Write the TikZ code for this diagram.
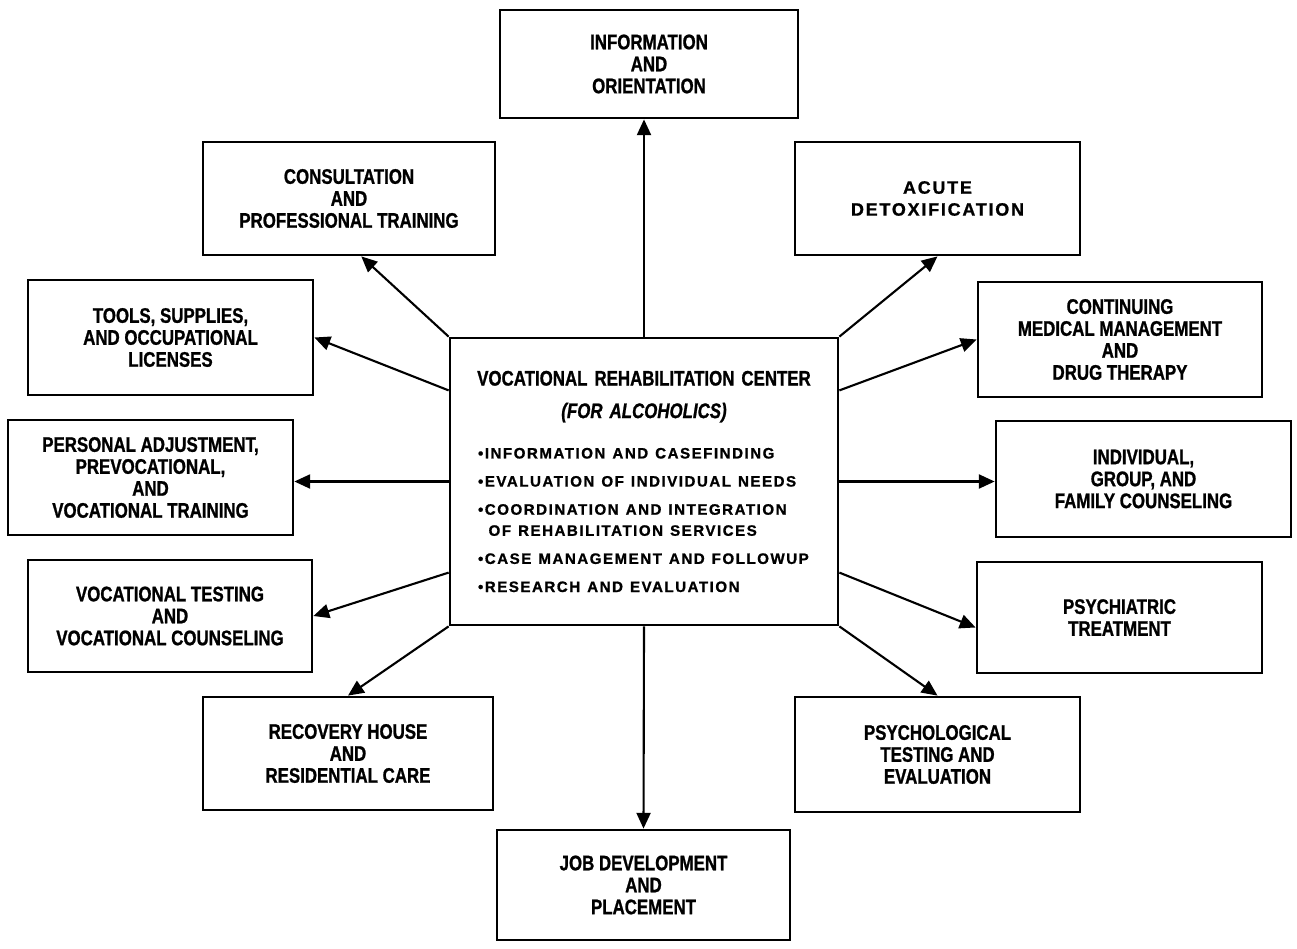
\documentclass[tikz,border=0pt]{standalone}
\usepackage{fontspec}
\setmainfont{Liberation Sans}[FakeStretch=0.8, BoldFeatures={FakeBold=1}, BoldItalicFeatures={FakeBold=1}]
\newfontfamily\listfont{Liberation Sans}[LetterSpace=10, BoldFeatures={FakeBold=1}]
\usetikzlibrary{arrows.meta,positioning}

\begin{document}
\begin{tikzpicture}[x=0.02cm,y=-0.02cm,
        unit/.style={draw, line width=1.6pt, align=center, inner sep=2pt,
            font=\bfseries\fontsize{12}{12.5}\selectfont},
        link/.style={line width=1.2pt, -{Triangle[length=9pt,width=8pt]}}]
            \useasboundingbox (0,0) rectangle (1297,949);
            % centre
            \node[unit, minimum width=7.76cm, minimum height=5.74cm, text width=6.64cm, align=left] (vrc) at (644,481.5)
                {{\centering \makebox[\linewidth][c]{VOCATIONAL REHABILITATION CENTER}\\[6pt]\itshape (FOR ALCOHOLICS)\par}
                 \vspace{11pt}
                 {\listfont\fontsize{8.6}{12}\selectfont
                 •INFORMATION AND CASEFINDING\\[4pt]
                 •EVALUATION OF INDIVIDUAL NEEDS\\[4pt]
                 •COORDINATION AND INTEGRATION\\
                 \hspace*{6pt}OF REHABILITATION SERVICES\\[4pt]
                 •CASE MANAGEMENT AND FOLLOWUP\\[4pt]
                 •RESEARCH AND EVALUATION\par}};
            % services round it
            \node[unit, minimum width=5.96cm, minimum height=2.16cm] (info) at (649,64) {INFORMATION\\AND\\ORIENTATION};
            \node[unit, minimum width=5.84cm, minimum height=2.26cm] (consult) at (349,198.5) {CONSULTATION\\AND\\PROFESSIONAL TRAINING};
            \node[unit, minimum width=5.70cm, minimum height=2.26cm, font=\listfont\bfseries\fontsize{10.2}{12.5}\selectfont] (acute) at (937.5,198.5) {ACUTE\\DETOXIFICATION};
            \node[unit, minimum width=5.70cm, minimum height=2.30cm] (tools) at (170.5,337.5) {TOOLS, SUPPLIES,\\AND OCCUPATIONAL\\LICENSES};
            \node[unit, minimum width=5.68cm, minimum height=2.30cm] (contin) at (1120,339.5) {CONTINUING\\MEDICAL MANAGEMENT\\AND\\DRUG THERAPY};
            \node[unit, minimum width=5.70cm, minimum height=2.30cm] (personal) at (150.5,477.5) {PERSONAL ADJUSTMENT,\\PREVOCATIONAL,\\AND\\VOCATIONAL TRAINING};
            \node[unit, minimum width=5.90cm, minimum height=2.32cm] (indiv) at (1143.5,479) {INDIVIDUAL,\\GROUP, AND\\FAMILY COUNSELING};
            \node[unit, minimum width=5.68cm, minimum height=2.24cm] (voctest) at (170,616) {VOCATIONAL TESTING\\AND\\VOCATIONAL COUNSELING};
            \node[unit, minimum width=5.70cm, minimum height=2.22cm] (psychiatric) at (1119.5,617.5) {PSYCHIATRIC\\TREATMENT};
            \node[unit, minimum width=5.80cm, minimum height=2.26cm] (recovery) at (348,753.5) {RECOVERY HOUSE\\AND\\RESIDENTIAL CARE};
            \node[unit, minimum width=5.70cm, minimum height=2.30cm] (psychol) at (937.5,754.5) {PSYCHOLOGICAL\\TESTING AND\\EVALUATION};
            \node[unit, minimum width=5.86cm, minimum height=2.20cm] (job) at (643.5,885) {JOB DEVELOPMENT\\AND\\PLACEMENT};
            % arrows out of the centre
            \draw[link] (vrc.north) -- (vrc.north |- info.south);
            \draw[link] (vrc.north west) -- (consult.-78);
            \draw[link] (vrc.north east) -- (acute.south);
            \draw[link] (vrc.155) -- (tools.east);
            \draw[link] (vrc.25) -- (contin.west);
            \draw[link] (vrc.west) -- (vrc.west -| personal.east);
            \draw[link] (vrc.east) -- (vrc.east -| indiv.west);
            \draw[link] (vrc.205) -- (voctest.east);
            \draw[link] (vrc.335) -- ([yshift=-0.2cm]psychiatric.west);
            \draw[link] (vrc.south west) -- (recovery.north);
            \draw[link] (vrc.south east) -- (psychol.north);
            \draw[link] (vrc.south) -- (job.north);
        \end{tikzpicture}
\end{document}
